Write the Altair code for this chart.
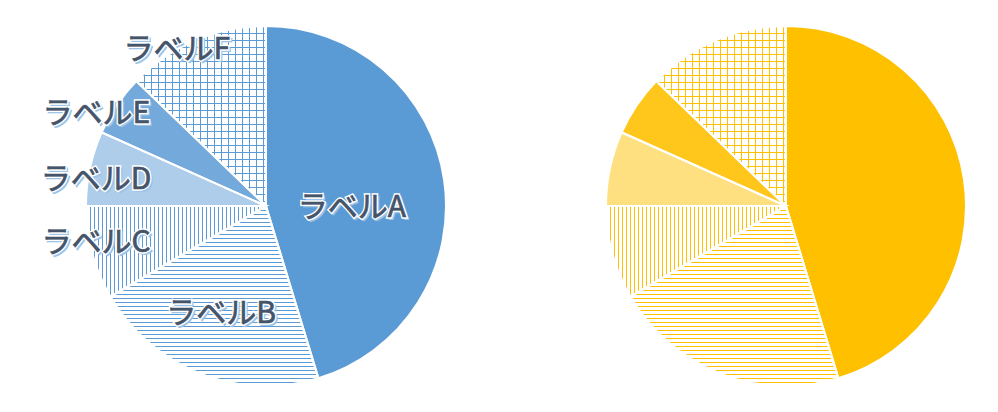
import math
import altair as alt
import pandas as pd

# ---- data ----
labels = ["ラベルA", "ラベルB", "ラベルC", "ラベルD", "ラベルE", "ラベルF"]
values = [45.3, 21.3, 8.4, 6.7, 5.5, 12.8]
order = [0, 1, 2, 3, 4, 5]

df = pd.DataFrame({"label": labels, "value": values, "order": order})
total = sum(values)

# ---- layout / style ----
R = 180
CY = 198
CENTERS = [258, 778]
PALETTES = [
    {"main": "#5B9BD5", "d": "#ADCDEA", "e": "#73A9DB"},
    {"main": "#FFC000", "d": "#FFE080", "e": "#FFC71C"},
]
TEXT_COLOR = "#44546A"
SHADOW = "#9DC3E6"
FONT = "Noto Sans CJK JP"

theta_scale = alt.Scale(domain=[0, total], range=[0, 2 * math.pi])


def slice_angles(i):
    a0 = sum(values[:i]) / total * 360.0
    a1 = sum(values[: i + 1]) / total * 360.0
    return a0, a1


def bbox(a0, a1):
    pts = [(0.0, 0.0)]
    angs = [a0, a1] + [k * 90 for k in range(5) if a0 < k * 90 < a1]
    for a in angs:
        r = math.radians(a)
        pts.append((R * math.sin(r), -R * math.cos(r)))
    xs = [p[0] for p in pts]
    ys = [p[1] for p in pts]
    return min(xs), max(xs), min(ys), max(ys)


def stripes(lo, hi, period, lw, color, bg, vertical_lines):
    L = hi - lo
    stops = [alt.GradientStop(offset=0, color=bg)]
    pos = math.ceil(lo)
    while pos < hi:
        o0 = round(max((pos - lo) / L, 0), 5)
        o1 = round(min((pos + lw - lo) / L, 1), 5)
        stops += [
            alt.GradientStop(offset=o0, color=bg),
            alt.GradientStop(offset=o0, color=color),
            alt.GradientStop(offset=o1, color=color),
            alt.GradientStop(offset=o1, color=bg),
        ]
        pos += period
    stops.append(alt.GradientStop(offset=1, color=bg))
    if vertical_lines:
        return alt.LinearGradient(gradient="linear", stops=stops, x1=0, y1=0, x2=1, y2=0)
    return alt.LinearGradient(gradient="linear", stops=stops, x1=0, y1=0, x2=0, y2=1)


base = (
    alt.Chart(df)
    .transform_window(cum="sum(value)", sort=[alt.SortField("order", order="ascending")])
    .transform_calculate(start="datum.cum - datum.value", mid="datum.cum - datum.value / 2")
)

enc = dict(
    theta=alt.Theta("start:Q", scale=theta_scale, stack=False),
    theta2=alt.Theta2("cum:Q"),
)

layers = []
WHITE = "#FFFFFF"
CLEAR = "rgba(255,255,255,0)"
for cx, pal in zip(CENTERS, PALETTES):
    main = pal["main"]
    for i in order:
        a0, a1 = slice_angles(i)
        x0, x1, y0, y1 = bbox(a0, a1)
        sl = base.transform_filter(alt.datum.order == i)
        if i == 0:
            fills = [main]
        elif i == 1:
            fills = [stripes(y0, y1, 4, 1, main, WHITE, False)]
        elif i == 2:
            fills = [stripes(x0, x1, 4, 1, main, WHITE, True)]
        elif i == 3:
            fills = [pal["d"]]
        elif i == 4:
            fills = [pal["e"]]
        else:
            fills = [
                stripes(x0, x1, 7, 1, main, WHITE, True),
                stripes(y0, y1, 7, 1, main, CLEAR, False),
            ]
        for f in fills:
            layers.append(
                sl.mark_arc(x=cx, y=CY, outerRadius=R, fill=f, strokeWidth=0).encode(**enc)
            )
    layers.append(
        base.mark_arc(
            x=cx, y=CY, outerRadius=R, fillOpacity=0, stroke=WHITE, strokeWidth=2
        ).encode(**enc)
    )

# ---- labels (left pie only), best-fit style placement around each slice's mid angle ----
cx0 = CENTERS[0]
lab = base.transform_calculate(
    nudge="[9.8, 1.2, 2.8, -3.3, -5.5, -6.7][datum.order] * PI / 180",
    rad="[86, 117, 174, 172, 193, 180][datum.order]",
).transform_calculate(
    ang="datum.mid / %f * 2 * PI + datum.nudge" % total,
).transform_calculate(
    px="%d + datum.rad * sin(datum.ang)" % cx0,
    py="%d - datum.rad * cos(datum.ang)" % CY,
)
tenc = dict(
    x=alt.X("px:Q", scale=None, axis=None),
    y=alt.Y("py:Q", scale=None, axis=None),
    text=alt.Text("label:N"),
)
common = dict(font=FONT, fontSize=30, align="center", baseline="middle")
layers.append(lab.mark_text(dx=2, dy=2, fill=SHADOW, stroke=SHADOW, strokeWidth=2, **common).encode(**tenc))
layers.append(lab.mark_text(fill=WHITE, stroke=WHITE, strokeWidth=3.5, **common).encode(**tenc))
layers.append(lab.mark_text(fill=TEXT_COLOR, stroke=TEXT_COLOR, strokeWidth=0.7, **common).encode(**tenc))

chart = (
    alt.layer(*layers)
    .properties(width=982, height=396, padding=0)
    .configure_view(strokeWidth=0)
)

chart.save("out.html", embed_options={"renderer": "svg", "actions": False})
